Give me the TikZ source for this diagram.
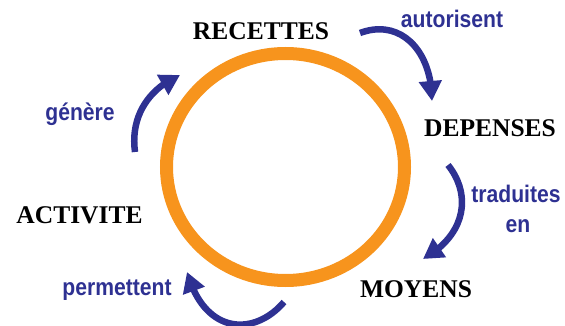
\documentclass[tikz,border=0pt]{standalone}
\usepackage{fontspec}
\setmainfont{Liberation Serif}
\newfontfamily\bluefont[FakeStretch=0.88]{Liberation Sans}
\usetikzlibrary{arrows.meta,bending}
\definecolor{cycblue}{RGB}{46,49,146}
\definecolor{cycorange}{RGB}{247,148,29}
\tikzset{
  blacklbl/.style={anchor=base,font=\fontsize{25.5}{28}\selectfont\bfseries,text=black,inner sep=0pt},
  bluelbl/.style={anchor=base,font=\bluefont\fontsize{24}{26}\selectfont\bfseries,text=cycblue,inner sep=0pt},
  cycarrow/.style={draw=cycblue,line width=6.5pt,-{Triangle[length=20pt,width=22pt]}}
}
\begin{document}
\begin{tikzpicture}[x=1pt,y=-1pt]
\useasboundingbox (0,0) rectangle (565,326);
% ring
\draw[cycorange,line width=13pt] (285.5,167) ellipse [x radius=119, y radius=113.5];
% labels
\node[blacklbl] (rec) at (261,40) {RECETTES};
\node[blacklbl] (dep) at (490,137) {DEPENSES};
\node[blacklbl] (moy) at (416,297) {MOYENS};
\node[blacklbl] (act) at (79.5,223) {ACTIVITE};
\node[bluelbl] (aut) at (452,28) {autorisent};
\node[bluelbl] (tra) at (516,202) {traduites};
\node[bluelbl] (en) at (518,232) {en};
\node[bluelbl] (gen) at (80,121) {génère};
\node[bluelbl] (per) at (117,295) {permettent};
% arrow end points
\coordinate (a1) at (360,33);
\coordinate (a2) at (432,101);
\coordinate (b1) at (448,165);
\coordinate (b2) at (423,259);
\coordinate (c1) at (135,152);
\coordinate (c2) at (180,75);
\coordinate (d1) at (284,302);
\coordinate (d2) at (187,272);
% arrows
\draw[cycarrow] (a1) .. controls (400,18) and (432,50) .. (a2);
\draw[cycarrow] (b1) .. controls (472,195) and (466,235) .. (b2);
\draw[cycarrow] (c1) .. controls (130,115) and (150,88) .. (c2);
\draw[cycarrow] (d1) .. controls (255,336) and (205,336) .. (d2);
\end{tikzpicture}
\end{document}
